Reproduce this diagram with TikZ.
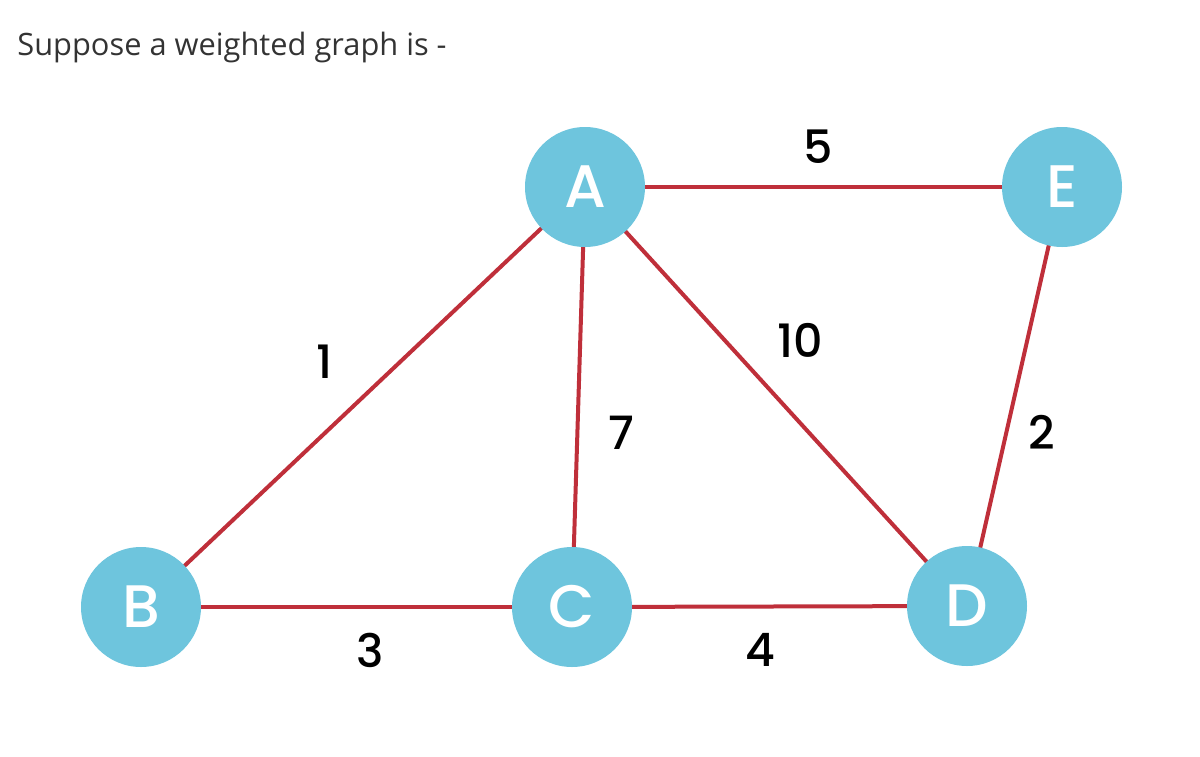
\documentclass[tikz,border=0pt]{standalone}
\usepackage{fontspec}
\setmainfont{Open Sans}
\newfontfamily\geofont[UprightFont={* Medium}]{Poppins}
\usepackage{tikz}
\definecolor{vertexblue}{HTML}{6EC5DD}
\definecolor{edgered}{HTML}{BF2F3A}
\definecolor{titlegray}{HTML}{333333}

\begin{document}
\begin{tikzpicture}[x=0.5pt,y=-0.5pt,
    vertex/.style={circle,fill=vertexblue,draw=none,minimum size=60pt,inner sep=0pt,
      text=white,font=\geofont\fontsize{30}{30}\selectfont},
    edge/.style={edgered,line width=2pt},
    weight/.style={font=\geofont\fontsize{23}{23}\selectfont,inner sep=0pt}]
  \useasboundingbox (0,0) rectangle (1200,756);
  \node[anchor=base west,text=titlegray,inner sep=0pt,font=\fontsize{15.4}{15.4}\selectfont]
    (title) at (17,55) {Suppose a weighted graph is -};
  % vertices
  \coordinate (pa) at (585,187);
  \coordinate (pb) at (141,607);
  \coordinate (pc) at (572,607);
  \coordinate (pd) at (967,606);
  \coordinate (pe) at (1062,187);
  % edges
  \draw[edge] (pa) -- (pe);
  \draw[edge] (pa) -- (pb);
  \draw[edge] (pa) -- (pc);
  \draw[edge] (pa) -- (pd);
  \draw[edge] (pe) -- (pd);
  \draw[edge] (pb) -- (pc);
  \draw[edge] (pc) -- (pd);
  \node[vertex] (a) at (pa) {A};
  \node[vertex] (b) at (pb) {B};
  \node[vertex] (c) at (pc) {C};
  \node[vertex] (d) at (pd) {D};
  \node[vertex] (e) at (pe) {E};
  % weights
  \node[weight] (wae) at (818,147) {5};
  \node[weight] (wab) at (325,362) {1};
  \node[weight] (wac) at (621,433) {7};
  \node[weight] (wad) at (800,340) {10};
  \node[weight] (wed) at (1042,432) {2};
  \node[weight] (wbc) at (370,650) {3};
  \node[weight] (wcd) at (760,650) {4};
\end{tikzpicture}
\end{document}
